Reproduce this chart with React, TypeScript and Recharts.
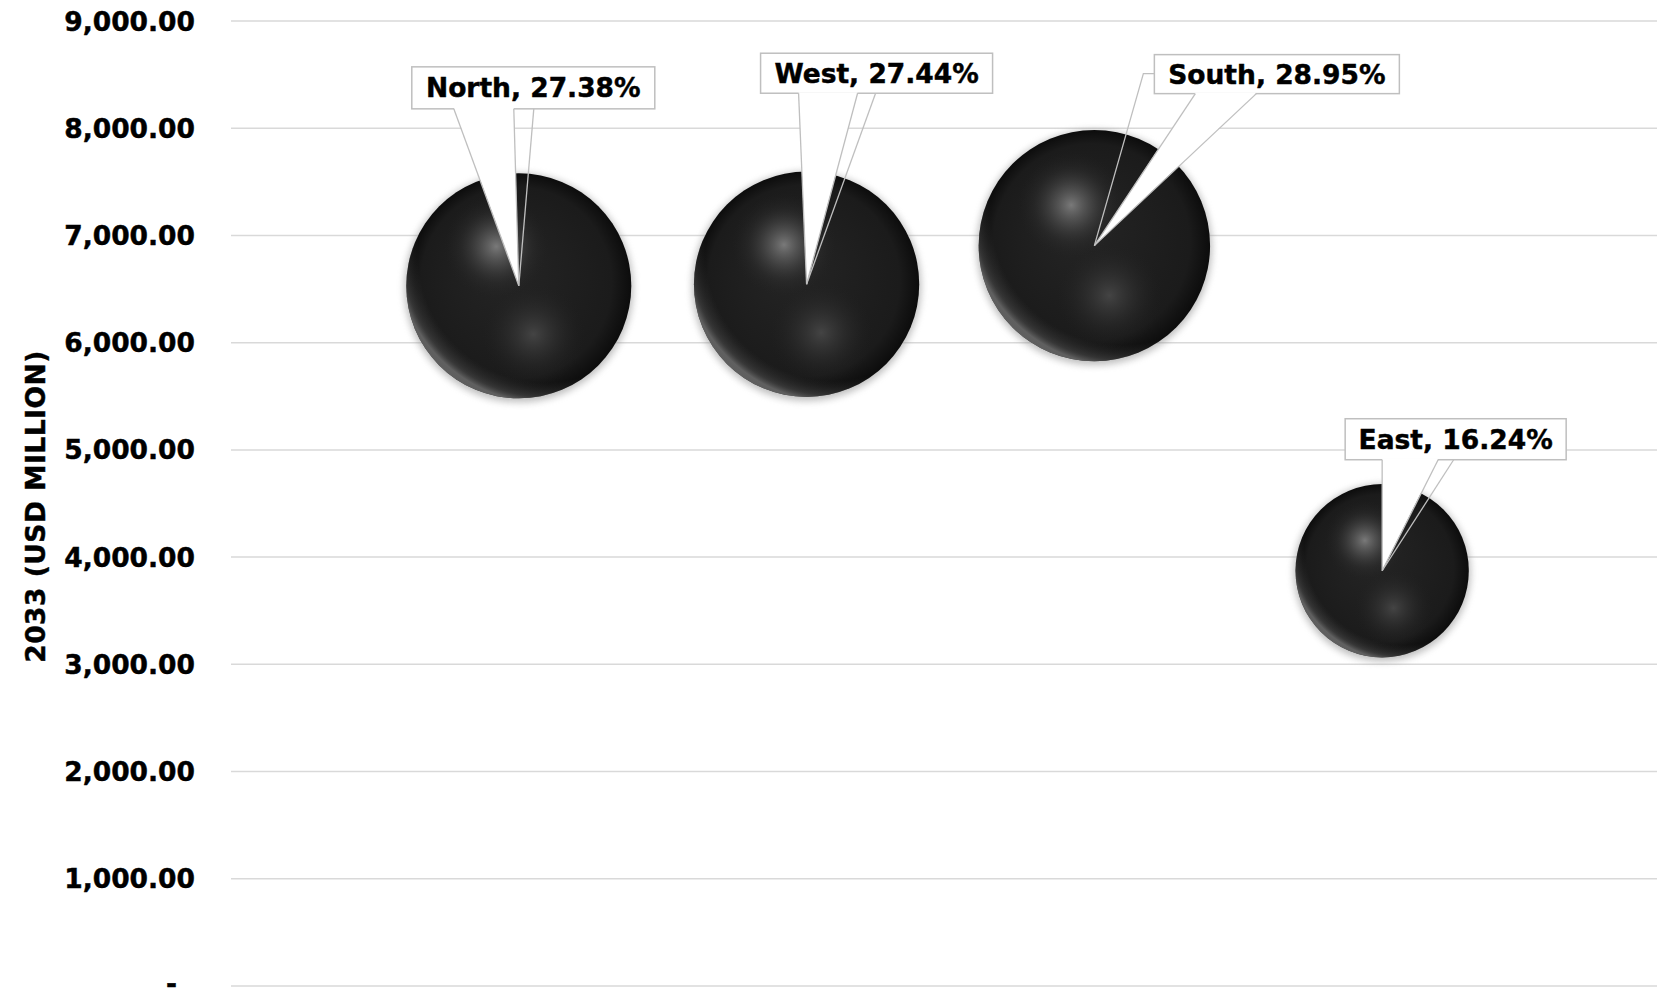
import React from 'react';
import { ScatterChart, Scatter, XAxis, YAxis, ZAxis, CartesianGrid } from 'recharts';

// ---- data ----
const regions = ['North', 'West', 'South', 'East'];
const positions = [1, 2, 3, 4];
const values2033 = [6530, 6545, 6905, 3873];
const shares = ['27.38%', '27.44%', '28.95%', '16.24%'];
const yTicks = [0, 1000, 2000, 3000, 4000, 5000, 6000, 7000, 8000, 9000];
const yTitle = '2033 (USD MILLION)';

const data = regions.map((name, i) => ({
  name,
  x: positions[i],
  value: values2033[i],
  share: shares[i],
}));

// ---- layout of callouts (relative to bubble centre) ----
type Callout = { box: [number, number, number, number]; wedge: [number, number]; leader: [number, number][] };
const callouts: Callout[] = [
  { box: [-107, -219, 243, 42], wedge: [-65, -5], leader: [[15, -177]] },
  { box: [-46, -231, 232, 40], wedge: [-8, 51], leader: [[69, -191]] },
  { box: [60, -191, 245, 39], wedge: [101, 162], leader: [[60, -172], [49, -172]] },
  { box: [-37, -152, 221, 41], wedge: [0, 56], leader: [[71.5, -111]] },
];

const FONT = "'DejaVu Sans', Verdana, sans-serif";
const LINE = '#bfbfbf';
const TXT = { fontFamily: FONT, fontWeight: 'bold' as const, fontSize: 26.5, fill: '#000', stroke: '#000', strokeWidth: 0.45 };

const fmt = (v: number) =>
  v.toLocaleString('en-US', { minimumFractionDigits: 2, maximumFractionDigits: 2 });

const YTick = (props: any) => {
  const { x, y, payload } = props;
  const v = payload.value as number;
  if (v === 0) {
    return (
      <text x={x - 18} y={y} dy="0.26em" textAnchor="end" {...TXT}>
        -
      </text>
    );
  }
  return (
    <text x={x} y={y} dy="0.36em" textAnchor="end" {...TXT}>
      {fmt(v)}
    </text>
  );
};

const YTitle = (props: any) => {
  const vb = props.viewBox || { x: 0, y: 0, width: 0, height: 0 };
  const x = vb.x + 45;
  const y = vb.y + vb.height / 2 + 3;
  return (
    <text
      x={x}
      y={y}
      transform={`rotate(-90, ${x}, ${y})`}
      textAnchor="middle"
      letterSpacing={0.5}
      {...TXT}
    >
      {yTitle}
    </text>
  );
};

const Bubble = (props: any) => {
  const { cx, cy, payload } = props;
  if (cx == null || cy == null || !payload) return null;
  const r = props.width ? props.width / 2 : Math.sqrt((props.size || 0) / Math.PI);
  const idx = regions.indexOf(payload.name);
  const c = callouts[idx];
  const id = `b${idx}`;
  const [bx, by, bw, bh] = c.box;
  const bottom = by + bh;
  return (
    <g>
      <defs>
        <filter id={`${id}-glow`} x="-30%" y="-30%" width="160%" height="160%">
          <feGaussianBlur stdDeviation="3.5" />
        </filter>
        <radialGradient id={`${id}-base`} cx="0.5" cy="0.5" r="0.5" fx="0.42" fy="0.4">
          <stop offset="0" stopColor="#252525" />
          <stop offset="0.85" stopColor="#1b1b1b" />
          <stop offset="1" stopColor="#0c0c0c" />
        </radialGradient>
        <radialGradient id={`${id}-rim`} cx="0.62" cy="0.36" r="0.66">
          <stop offset="0" stopColor="#000" stopOpacity="0" />
          <stop offset="0.86" stopColor="#3a3a3a" stopOpacity="0" />
          <stop offset="0.96" stopColor="#5a5a5a" stopOpacity="0.5" />
          <stop offset="1" stopColor="#7a7a7a" stopOpacity="0.75" />
        </radialGradient>
        <radialGradient id={`${id}-hi1`} cx="0.4" cy="0.325" r="0.23">
          <stop offset="0" stopColor="#7e7e7e" stopOpacity="0.95" />
          <stop offset="0.35" stopColor="#5e5e5e" stopOpacity="0.6" />
          <stop offset="0.7" stopColor="#3a3a3a" stopOpacity="0.25" />
          <stop offset="1" stopColor="#252525" stopOpacity="0" />
        </radialGradient>
        <radialGradient id={`${id}-hi2`} cx="0.565" cy="0.715" r="0.23">
          <stop offset="0" stopColor="#464646" stopOpacity="0.95" />
          <stop offset="0.4" stopColor="#383838" stopOpacity="0.55" />
          <stop offset="1" stopColor="#202020" stopOpacity="0" />
        </radialGradient>
      </defs>
      <circle cx={cx} cy={cy + 2} r={r + 2} fill="#8c8c8c" opacity={0.55} filter={`url(#${id}-glow)`} />
      <circle cx={cx} cy={cy} r={r} fill={`url(#${id}-base)`} />
      <circle cx={cx} cy={cy} r={r} fill={`url(#${id}-rim)`} />
      <circle cx={cx} cy={cy} r={r} fill={`url(#${id}-hi1)`} />
      <circle cx={cx} cy={cy} r={r} fill={`url(#${id}-hi2)`} />

      {/* callout */}
      <rect x={cx + bx} y={cy + by} width={bw} height={bh} fill="#fff" stroke={LINE} strokeWidth={1.5} />
      <polygon
        points={`${cx + c.wedge[0]},${cy + bottom - 1} ${cx + c.wedge[1]},${cy + bottom - 1} ${cx},${cy}`}
        fill="#fff"
        stroke="none"
      />
      <line x1={cx + c.wedge[0]} y1={cy + bottom} x2={cx} y2={cy} stroke={LINE} strokeWidth={1.3} />
      <line x1={cx + c.wedge[1]} y1={cy + bottom} x2={cx} y2={cy} stroke={LINE} strokeWidth={1.3} />
      <polyline
        points={[...c.leader.map(([a, b]) => `${cx + a},${cy + b}`), `${cx},${cy}`].join(' ')}
        fill="none"
        stroke={LINE}
        strokeWidth={1.3}
      />
      <text x={cx + bx + bw / 2} y={cy + by + bh / 2} dy="0.36em" textAnchor="middle" {...TXT}>
        {`${payload.name}, ${payload.share}`}
      </text>
    </g>
  );
};

export default function App() {
  return (
    <div style={{ position: 'absolute', left: 0, top: 0, width: 1657, height: 989, background: '#fff' }}>
      <ScatterChart width={1657} height={989} margin={{ top: 21, right: 0, bottom: 3, left: 0 }}>
        <CartesianGrid vertical={false} stroke="#d9d9d9" strokeWidth={1.5} />
        <XAxis type="number" dataKey="x" domain={[0, 4.955]} hide />
        <YAxis
          type="number"
          dataKey="value"
          domain={[0, 9000]}
          ticks={yTicks}
          interval={0}
          width={231}
          axisLine={false}
          tickLine={false}
          tickSize={0}
          tickMargin={36}
          tick={<YTick />}
          label={<YTitle />}
        />
        <ZAxis type="number" dataKey="value" domain={[0, 10000]} range={[0, 60907]} />
        <Scatter data={data} shape={Bubble} isAnimationActive={false} />
      </ScatterChart>
    </div>
  );
}
